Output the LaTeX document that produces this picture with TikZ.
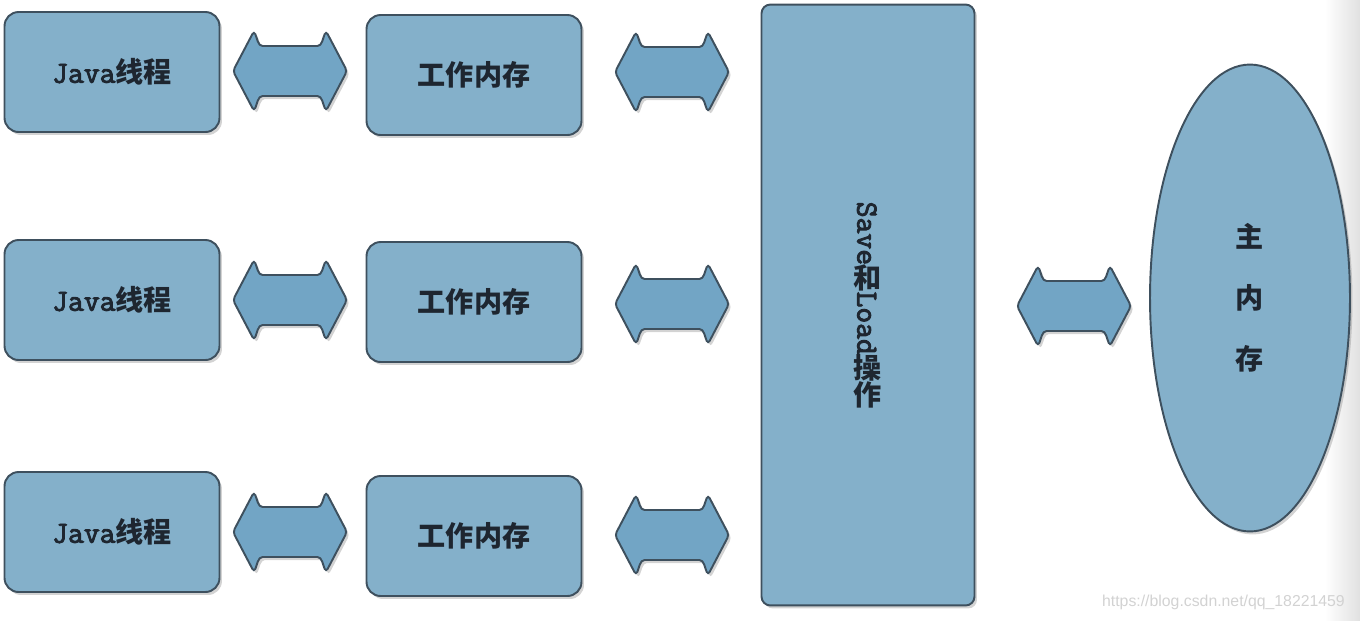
\documentclass[tikz,border=0pt]{standalone}
\usepackage{fontspec}
\usepackage{graphicx}
\newfontfamily\slab[FakeBold=3]{Latin Modern Mono}
\newfontfamily\cjk{Noto Sans CJK SC}
\newfontfamily\wmfont{Liberation Sans}
\usepackage{tikz}
\usetikzlibrary{positioning}
\usetikzlibrary{shapes.geometric,shadows}
\definecolor{jm-fill}{HTML}{84B0CA}
\definecolor{jm-arrow}{HTML}{72A5C5}
\definecolor{jm-edge}{HTML}{3E505E}
\definecolor{jm-text}{HTML}{1E2630}
\definecolor{jm-mark}{HTML}{D2D2D2}
\newcommand{\zh}[1]{{\cjk\bfseries\fontsize{16}{19}\selectfont #1}}
\newcommand{\lat}[1]{{\slab\fontsize{17.5}{19}\selectfont #1}}
\newcommand{\up}[1]{\rotatebox[origin=c]{90}{\zh{#1}}}
% double block arrow drawn round a named coordinate
\newcommand{\dbl}[1]{\draw[link, shift={(#1)}] (-57,0) -- (-36,-40)
  .. controls (-33,-33) and (-32,-25) .. (-24,-25) -- (24,-25)
  .. controls (32,-25) and (33,-33) .. (36,-40) -- (57,0) -- (36,40)
  .. controls (33,33) and (32,25) .. (24,25) -- (-24,25)
  .. controls (-32,25) and (-33,33) .. (-36,40) -- cycle;}
\tikzset{shade/.style={drop shadow={opacity=0.35, shadow xshift=0.05cm, shadow yshift=-0.06cm}}}
\tikzset{block/.style={draw=jm-edge, line width=1.1pt, fill=jm-fill, shade, text=jm-text}}

\begin{document}
\begin{tikzpicture}[x=0.02cm, y=-0.02cm, font=\fontsize{16}{19}\selectfont]

  % Global Style Definitions
  \tikzset{
    thread/.style={block, rounded corners=8pt, minimum width=4.3cm, minimum height=2.4cm},
    mem/.style={block, rounded corners=8pt, minimum width=4.3cm, minimum height=2.4cm},
    oper/.style={block, rounded corners=5pt, minimum width=4.26cm, minimum height=12.02cm, inner sep=0pt},
    mainmem/.style={block, ellipse, minimum width=4.0cm, minimum height=9.34cm, align=center},
    link/.style={draw=jm-edge, line width=1.1pt, fill=jm-arrow, shade, rounded corners=2pt}
  }

  \useasboundingbox (0,0) rectangle (1360,620);
  \shade[left color=white, right color=black!12] (1325,0) rectangle (1360,620);

  % Threads
  \node (t1) [thread] at (112,72) {\lat{Java}\zh{线程}};
  \node (t2) [thread] at (112,300) {\lat{Java}\zh{线程}};
  \node (t3) [thread] at (112,532) {\lat{Java}\zh{线程}};

  % Working memory
  \node (w1) [mem] at (474,75) {\zh{工作内存}};
  \node (w2) [mem] at (474,302) {\zh{工作内存}};
  \node (w3) [mem] at (474,536) {\zh{工作内存}};

  % Save / Load block and main memory
  \node (sl) [oper] at (868,305) {};
  \node (sltext) [rotate=-90, text=jm-text] at (sl.center)
    {\lat{Save}\up{和}\lat{Load}\up{操}\up{作}};
  \node (mm) [mainmem] at (1250,298) {\zh{主}\\[0.55cm]\zh{内}\\[0.55cm]\zh{存}};

  % Double arrows between the columns
  \coordinate (a1) at (290,71);
  \coordinate (a2) at (290,300);
  \coordinate (a3) at (290,532);
  \coordinate (b1) at (672,72);
  \coordinate (b2) at (672,304);
  \coordinate (b3) at (672,535);
  \coordinate (c1) at (1074,306);
  \foreach \p in {a1,a2,a3,b1,b2,b3,c1} {\dbl{\p}}

  \node (wm) [text=jm-mark, font=\wmfont\fontsize{9}{11}\selectfont, anchor=east] at (1351,602) {https://blog.csdn.net/qq\_18221459};

\end{tikzpicture}
\end{document}
